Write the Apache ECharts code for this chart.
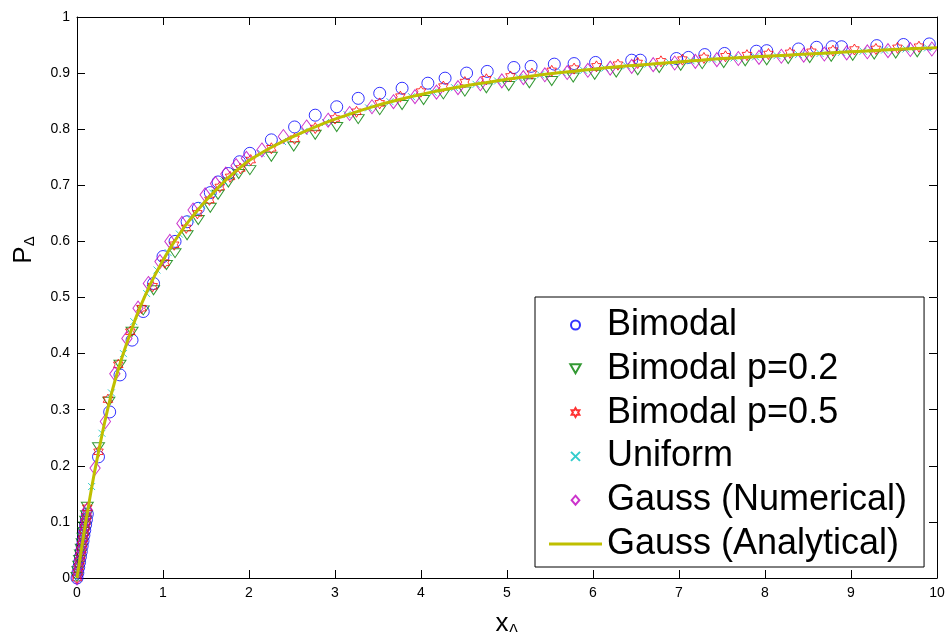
<!DOCTYPE html>
<html>
<head>
<meta charset="utf-8">
<script src="https://cdn.jsdelivr.net/npm/echarts@6/dist/echarts.min.js"></script>
<style>html,body{margin:0;padding:0;background:#fff}#c{width:951px;height:632px}</style>
</head>
<body>
<div id="c"></div>
<script>
// ---- data ----
var xTicks = [0,1,2,3,4,5,6,7,8,9,10];
var yTicks = [0,0.1,0.2,0.3,0.4,0.5,0.6,0.7,0.8,0.9,1];
var seriesNames = ['Bimodal','Bimodal p=0.2','Bimodal p=0.5','Uniform','Gauss (Numerical)','Gauss (Analytical)'];

var bimodalX = [0,0.01,0.02,0.03,0.04,0.05,0.06,0.07,0.08,0.09,0.1,0.11,0.12,
  0.25,0.38,0.5,0.64,0.77,0.89,1.0,1.14,1.28,1.41,1.55,1.64,1.76,1.89,2.01,2.26,2.53,2.77,3.02,3.27,3.52,3.78,4.08,4.28,
  4.53,4.77,5.08,5.28,5.55,5.78,6.03,6.45,6.55,6.97,7.11,7.3,7.53,7.9,8.02,8.39,8.6,8.78,8.89,9.3,9.61,9.91];
var bimodalY = [0,0.009,0.019,0.028,0.038,0.047,0.057,0.066,0.076,0.085,0.095,0.104,0.114,
  0.216,0.296,0.362,0.424,0.475,0.525,0.573,0.6,0.635,0.659,0.687,0.706,0.721,0.742,0.757,0.781,0.804,0.825,0.84,0.855,0.864,0.873,0.882,0.891,
  0.9,0.903,0.91,0.912,0.916,0.917,0.919,0.923,0.923,0.926,0.928,0.933,0.935,0.939,0.94,0.943,0.946,0.947,0.947,0.949,0.951,0.952];

var p02X = [0,0.01,0.02,0.03,0.04,0.05,0.06,0.07,0.08,0.09,0.1,0.11,0.12,
  0.25,0.37,0.5,0.64,0.77,0.89,1.04,1.14,1.28,1.41,1.55,1.64,1.76,1.88,2.01,2.26,2.52,2.77,3.02,3.27,3.52,3.78,4.03,4.26,
  4.51,4.76,5.02,5.26,5.52,5.77,6.02,6.27,6.52,6.77,7.02,7.27,7.52,7.77,8.02,8.27,8.52,8.77,9.02,9.27,9.52,9.77];
var p02Y = [0.002,0.012,0.022,0.032,0.042,0.052,0.062,0.072,0.082,0.092,0.102,0.112,0.127,
  0.233,0.314,0.38,0.439,0.477,0.513,0.558,0.579,0.611,0.638,0.66,0.683,0.705,0.72,0.727,0.751,0.769,0.79,0.804,0.818,0.834,0.843,0.852,0.862,
  0.867,0.873,0.877,0.882,0.886,0.892,0.897,0.901,0.905,0.909,0.913,0.916,0.918,0.921,0.923,0.925,0.927,0.929,0.931,0.933,0.935,0.937];

var p05X = [0,0.01,0.02,0.03,0.04,0.05,0.06,0.07,0.08,0.09,0.1,0.11,0.12,
  0.25,0.36,0.48,0.62,0.75,0.88,1.02,1.13,1.27,1.4,1.54,1.66,1.78,1.9,2.02,2.26,2.53,2.77,3.0,3.25,3.52,3.76,4.0,4.26,
  4.51,4.76,5.04,5.29,5.52,5.78,6.04,6.29,6.52,6.79,7.04,7.29,7.54,7.79,8.04,8.29,8.54,8.79,9.04,9.29,9.54,9.79];
var p05Y = [0,0.01,0.02,0.03,0.04,0.05,0.06,0.07,0.08,0.09,0.1,0.11,0.125,
  0.225,0.318,0.38,0.439,0.481,0.52,0.562,0.594,0.624,0.65,0.674,0.697,0.715,0.73,0.745,0.766,0.783,0.802,0.819,0.831,0.846,0.858,0.867,0.876,
  0.884,0.889,0.894,0.899,0.904,0.908,0.912,0.915,0.918,0.921,0.924,0.927,0.93,0.932,0.934,0.936,0.938,0.94,0.942,0.943,0.945,0.947];

var uniformX = [0,0.01,0.02,0.03,0.04,0.05,0.06,0.07,0.08,0.09,0.1,0.11,0.12,
  0.17,0.29,0.4,0.54,0.66,0.81,0.93,1.06,1.19,1.32,1.45,1.58,1.71,1.84,1.96,2.14,2.39,2.64,2.89,3.14,3.39,3.64,3.89,4.14,
  4.39,4.64,4.89,5.14,5.39,5.64,5.89,6.14,6.39,6.64,6.89,7.14,7.39,7.64,7.89,8.14,8.39,8.64,8.89,9.14,9.39,9.64,9.89];
var uniformY = [0,0.01,0.02,0.03,0.04,0.05,0.06,0.07,0.08,0.09,0.1,0.11,0.12,
  0.163,0.258,0.33,0.4,0.457,0.507,0.549,0.58,0.613,0.64,0.664,0.686,0.706,0.724,0.74,0.757,0.778,0.796,0.812,0.826,0.838,0.849,0.858,0.866,
  0.874,0.88,0.886,0.892,0.897,0.901,0.905,0.909,0.913,0.916,0.919,0.922,0.925,0.927,0.929,0.931,0.933,0.935,0.937,0.939,0.941,0.943,0.945];

var gaussNumX = [0,0.01,0.02,0.03,0.04,0.05,0.06,0.07,0.08,0.09,0.1,0.11,0.12,
  0.21,0.33,0.44,0.58,0.71,0.83,0.965,1.08,1.22,1.35,1.49,1.61,1.73,1.85,1.97,2.15,2.4,2.67,2.92,3.17,3.43,3.68,3.93,4.18,
  4.43,4.69,4.94,5.19,5.44,5.7,5.94,6.2,6.45,6.7,6.95,7.19,7.44,7.69,7.93,8.19,8.45,8.69,8.95,9.19,9.43,9.69,9.94];
var gaussNumY = [0,0.011,0.021,0.031,0.041,0.051,0.061,0.071,0.081,0.091,0.101,0.111,0.121,
  0.196,0.279,0.364,0.427,0.481,0.525,0.564,0.6,0.632,0.656,0.683,0.703,0.72,0.735,0.748,0.763,0.787,0.804,0.816,0.828,0.84,0.849,0.858,0.866,
  0.874,0.881,0.886,0.892,0.897,0.901,0.905,0.909,0.912,0.915,0.918,0.921,0.924,0.926,0.928,0.93,0.932,0.934,0.936,0.938,0.94,0.942,0.943];

var analyticX = [0,0.05,0.1,0.15,0.2,0.3,0.4,0.5,0.6,0.7,0.8,0.9,1.0,1.1,1.2,1.3,1.4,1.5,1.6,1.7,1.8,1.9,2.0,
  2.25,2.5,2.75,3.0,3.25,3.5,3.75,4.0,4.25,4.5,4.75,5.0,5.25,5.5,5.75,6.0,6.25,6.5,6.75,7.0,7.25,7.5,7.75,8.0,8.25,8.5,8.75,9.0,9.25,9.5,9.75,10];
var analyticY = [0,0.05,0.098,0.143,0.186,0.262,0.328,0.382,0.428,0.47,0.506,0.538,0.566,0.592,0.615,0.636,0.655,0.673,0.689,0.705,0.719,0.732,0.744,
  0.767,0.786,0.803,0.818,0.831,0.843,0.853,0.862,0.87,0.877,0.883,0.889,0.894,0.899,0.903,0.907,0.911,0.914,0.917,0.92,0.923,0.926,0.928,0.93,0.932,0.934,0.936,0.938,0.94,0.942,0.944,0.945];

function pairs(xs, ys){ return xs.map(function(x,i){ return [x, ys[i]]; }); }

var FONT = '"Liberation Sans", Arial, Helvetica, sans-serif';
var hexagram = 'path://M100,0 L128.87,50 L186.6,50 L157.74,100 L186.6,150 L128.87,150 L100,200 L71.13,150 L13.4,150 L42.26,100 L13.4,50 L71.13,50 Z';
var triDown = 'path://M0,0 L12,0 L6,10.4 Z';
var cross = 'path://M0,0 L10,10 M10,0 L0,10';
var diamond = 'path://M6,0 L12,7 L6,14 L0,7 Z';
var lineIcon = 'path://M0,0 L53,0 L53,3 L0,3 Z';

function hollow(c){ return { color: 'rgba(0,0,0,0)', borderColor: c, borderWidth: 1 }; }

var chart = echarts.init(document.getElementById('c'), null, {renderer:'canvas'});
var axisCommon = {
  type: 'value',
  axisLine: { show: true, onZero: false, lineStyle: { color: '#000', width: 1 } },
  axisTick: { show: true, inside: true, length: 8, lineStyle: { color: '#000', width: 1 } },
  splitLine: { show: false },
  axisLabel: { color: '#000', fontSize: 14, fontFamily: FONT }
};
function ax(extra){ return Object.assign({}, JSON.parse(JSON.stringify(axisCommon)), extra); }

chart.setOption({
  animation: false,
  backgroundColor: '#fff',
  grid: { left: 77, right: 14, top: 17, bottom: 54, containLabel: false, outerBoundsMode: 'none' },
  xAxis: [
    ax({ min: xTicks[0], max: xTicks[xTicks.length-1], interval: 1, position: 'bottom',
      axisLabel: { color: '#000', fontSize: 14, fontFamily: FONT, margin: 8 },
      name: 'x{s|Δ}', nameLocation: 'middle', nameGap: 33,
      nameTextStyle: { color: '#000', fontSize: 26, fontFamily: FONT, rich: { s: { fontSize: 15, fontFamily: FONT, color:'#000', verticalAlign: 'bottom' } } } }),
    ax({ min: xTicks[0], max: xTicks[xTicks.length-1], interval: 1, position: 'top', axisLabel: { show: false } })
  ],
  yAxis: [
    ax({ min: yTicks[0], max: yTicks[yTicks.length-1], interval: 0.1, position: 'left',
      axisLabel: { color: '#000', fontSize: 14, fontFamily: FONT, margin: 7 } }),
    ax({ min: yTicks[0], max: yTicks[yTicks.length-1], interval: 0.1, position: 'right', axisLabel: { show: false } })
  ],
  graphic: [{
    type: 'text', x: 24, y: 250, rotation: Math.PI/2,
    style: { text: 'P{s|Δ}', font: '26px ' + FONT, fill: '#000', align: 'center', verticalAlign: 'middle',
      rich: { s: { fontSize: 15, fontFamily: FONT, fill: '#000', verticalAlign: 'bottom' } } }
  }],
  legend: {
    orient: 'vertical', left: 535, top: 297,
    selectedMode: false,
    backgroundColor: '#fff', borderColor: '#000', borderWidth: 1, borderRadius: 0,
    padding: [8, 17, 3, 14],
    itemWidth: 53, itemHeight: 9, itemGap: 3.8,
    textStyle: { color: '#000', fontSize: 36, fontFamily: FONT, lineHeight: 40 },
    data: [
      { name: seriesNames[0] },
      { name: seriesNames[1] },
      { name: seriesNames[2] },
      { name: seriesNames[3] },
      { name: seriesNames[4] },
      { name: seriesNames[5], icon: lineIcon, itemStyle: { color: '#bfbf00', borderWidth: 0 } }
    ]
  },
  series: [
    { name: seriesNames[0], type: 'scatter', clip: false, symbol: 'circle', symbolSize: 12,
      itemStyle: hollow('#0000ff'), data: pairs(bimodalX, bimodalY), z: 2 },
    { name: seriesNames[1], type: 'scatter', clip: false, symbol: triDown, symbolSize: [12, 10.4], symbolKeepAspect: true,
      itemStyle: hollow('#008000'), data: pairs(p02X, p02Y), z: 2 },
    { name: seriesNames[2], type: 'scatter', clip: false, symbol: hexagram, symbolSize: 11, symbolKeepAspect: true,
      itemStyle: hollow('#ff0000'), data: pairs(p05X, p05Y), z: 2 },
    { name: seriesNames[3], type: 'scatter', clip: false, symbol: cross, symbolSize: 7,
      itemStyle: hollow('#00bfbf'), data: pairs(uniformX, uniformY), z: 2 },
    { name: seriesNames[4], type: 'scatter', clip: false, symbol: diamond, symbolSize: [12, 14], symbolKeepAspect: true,
      itemStyle: hollow('#bf00bf'), data: pairs(gaussNumX, gaussNumY), z: 2 },
    { name: seriesNames[5], type: 'line', symbol: 'none', showSymbol: false, smooth: 0.2,
      lineStyle: { color: '#bfbf00', width: 3 }, itemStyle: { color: '#bfbf00' },
      data: pairs(analyticX, analyticY), z: 3 }
  ]
});
</script>
</body>
</html>
